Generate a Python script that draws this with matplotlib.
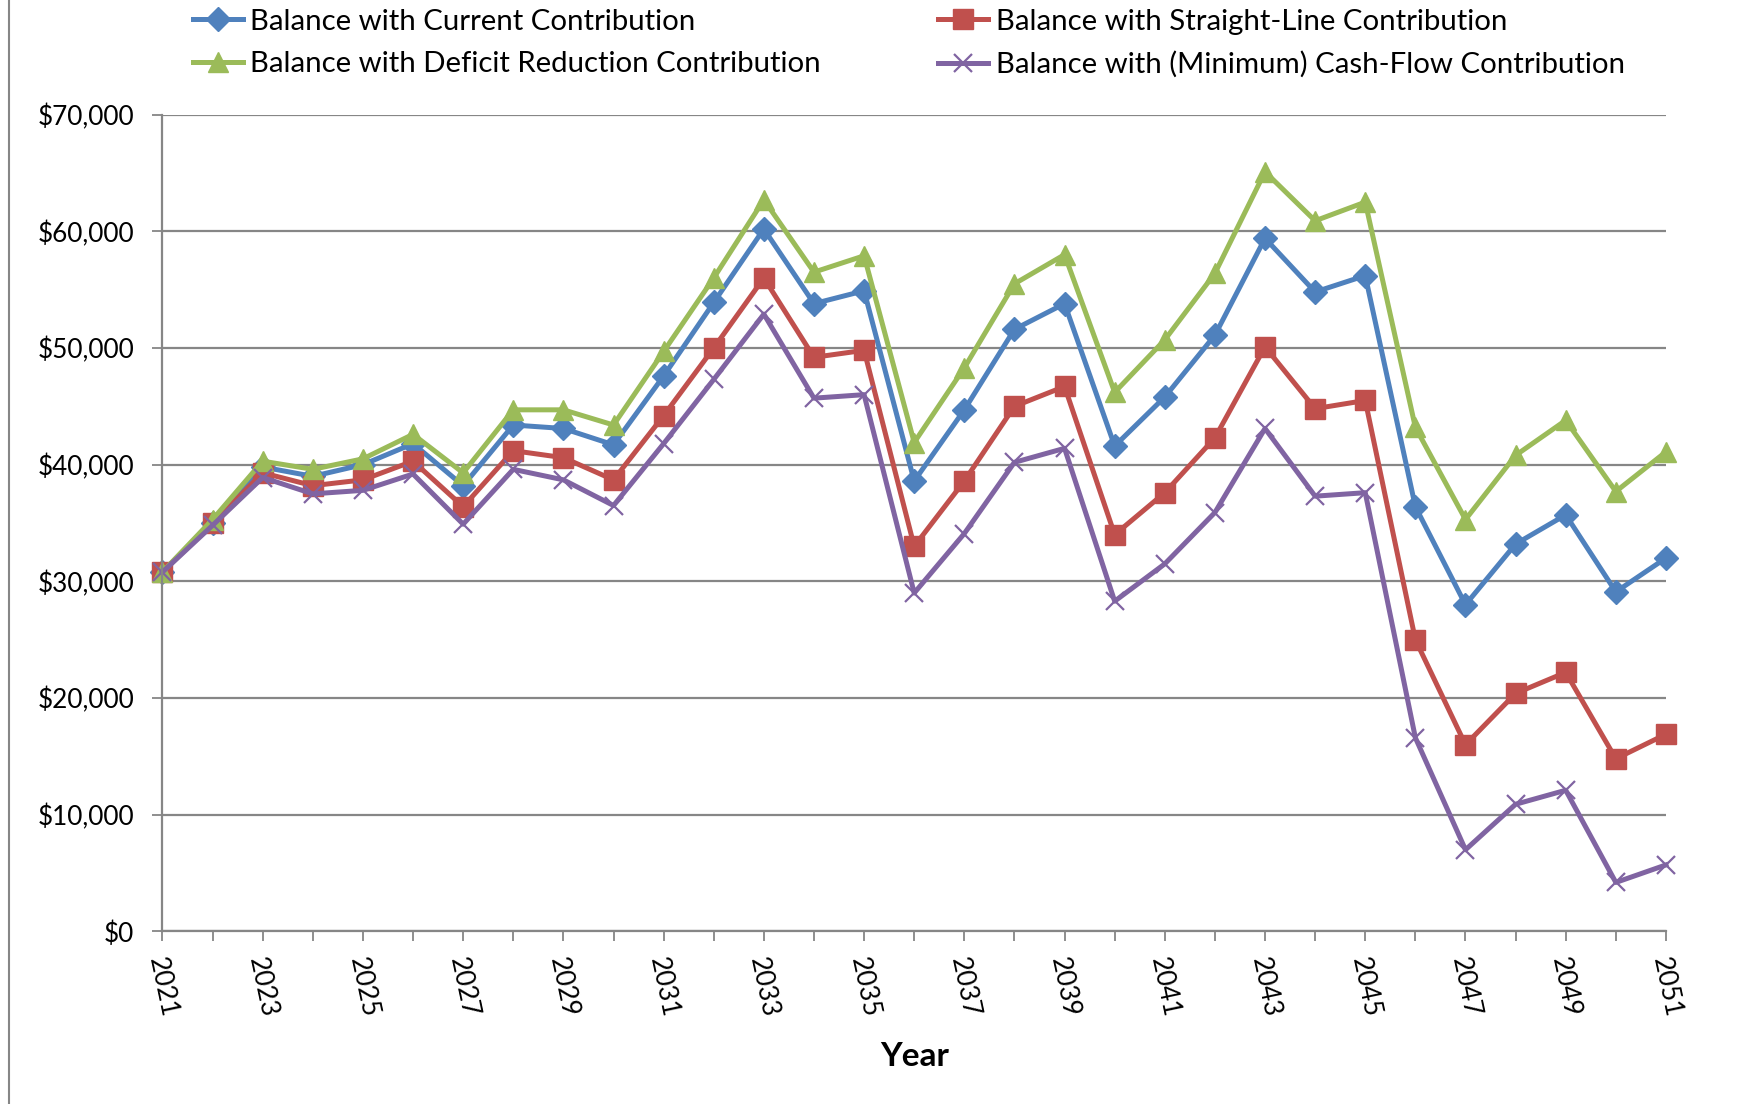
import matplotlib
matplotlib.use('Agg')
import matplotlib.pyplot as plt
from matplotlib.lines import Line2D
from matplotlib.ticker import FuncFormatter, MultipleLocator, FixedLocator

years = list(range(2021, 2052))
year_ticks = list(range(2021, 2052, 2))

current = [30800, 35000, 39800, 39000, 40000, 41800, 38200, 43400, 43100, 41700,
           47600, 53900, 60200, 53800, 54900, 38600, 44700, 51600, 53800, 41600,
           45800, 51100, 59400, 54800, 56200, 36400, 28000, 33200, 35700, 29100, 32000]
straight_line = [30800, 35000, 39300, 38200, 38700, 40300, 36400, 41200, 40600, 38700,
                 44200, 50000, 56000, 49200, 49800, 33000, 38600, 45000, 46700, 34000,
                 37600, 42300, 50100, 44800, 45500, 25000, 16000, 20400, 22200, 14800, 16900]
deficit_reduction = [30800, 35300, 40300, 39600, 40500, 42600, 39300, 44700, 44700, 43400,
                     49700, 56000, 62700, 56500, 57900, 41900, 48300, 55500, 58000, 46200,
                     50700, 56400, 65100, 60900, 62500, 43200, 35300, 40800, 43800, 37700, 41100]
cash_flow = [30800, 34800, 38900, 37500, 37800, 39200, 34900, 39600, 38700, 36500,
             41800, 47300, 52900, 45700, 46000, 29000, 34100, 40200, 41400, 28300,
             31500, 35900, 43100, 37300, 37600, 16600, 7000, 10900, 12100, 4200, 5700]

labels = ['Balance with Current Contribution',
          'Balance with Straight-Line Contribution',
          'Balance with Deficit Reduction Contribution',
          'Balance with (Minimum) Cash-Flow Contribution']

plt.rcParams['font.family'] = ['Lato', 'DejaVu Sans']

fig = plt.figure(figsize=(17.45, 11.04), dpi=100)
ax = fig.add_axes([0.0931, 0.1563, 0.8616, 0.7399])

grid_col = '#868686'

styles = [
    dict(color='#4F81BD', marker='D', markersize=12),
    dict(color='#C0504D', marker='s', markersize=14),
    dict(color='#9BBB59', marker='^', markersize=15),
    dict(color='#8064A2', marker='x', markersize=13, markeredgewidth=1.6),
]
series = [current, straight_line, deficit_reduction, cash_flow]
handles = []
for vals, lab, st in zip(series, labels, styles):
    ln, = ax.plot(years, vals, linewidth=3.6, label=lab, clip_on=False, **st)
    handles.append(ln)

ax.set_xlim(2021, 2051)
ax.set_ylim(0, 70000)
ax.yaxis.set_major_locator(MultipleLocator(10000))
ax.yaxis.set_major_formatter(FuncFormatter(lambda v, p: f'${v:,.0f}'))
ax.xaxis.set_major_locator(FixedLocator(year_ticks))
ax.xaxis.set_minor_locator(FixedLocator(years))

ax.grid(axis='y', color=grid_col, linewidth=1.6)
ax.set_axisbelow(True)
for s in ['top', 'right']:
    ax.spines[s].set_visible(False)
for s in ['left', 'bottom']:
    ax.spines[s].set_color(grid_col)
    ax.spines[s].set_linewidth(1.6)

ax.tick_params(axis='y', labelsize=18.8, length=7.2, width=1.3, color=grid_col, pad=13)
ax.tick_params(axis='x', which='both', length=7.2, width=1.3, color=grid_col)
ax.tick_params(axis='x', labelsize=18.8, labelrotation=-78, pad=10)

ax.set_xlabel('Year', fontsize=24, fontweight='bold', labelpad=16)

# legend: two columns, filled column-wise
leg_order = [handles[0], handles[2], handles[1], handles[3]]
fig.legend(handles=leg_order, labels=[h.get_label() for h in leg_order],
           loc='upper left', bbox_to_anchor=(0.1036, 1.0029), ncol=2, frameon=False,
           fontsize=21.2, handlelength=1.7, handletextpad=0.25, labelspacing=0.56,
           columnspacing=4.0, borderaxespad=0)

# outer frame edge on the left
fig.add_artist(Line2D([0.005, 0.005], [0, 1], transform=fig.transFigure,
                      color=grid_col, linewidth=1.5))

fig.savefig('out.png', dpi=100)
